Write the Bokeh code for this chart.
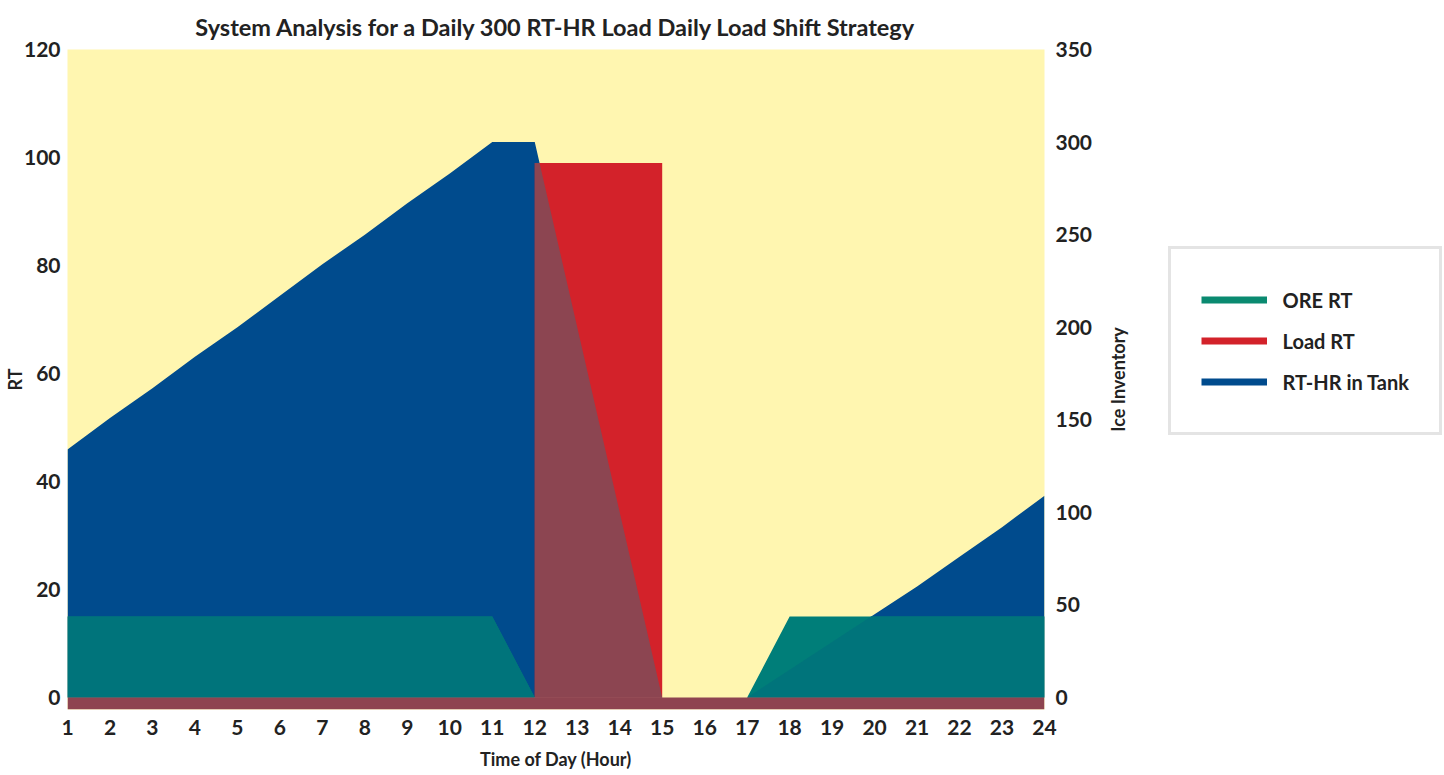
import numpy as np
from bokeh.plotting import figure
from bokeh.models import Range1d, LinearAxis, FixedTicker, Legend, LegendItem, Label
from bokeh.embed import file_html
from bokeh.resources import INLINE

# ---- data ----
hours = [1, 2, 3, 4, 5, 6, 7, 8, 9, 10, 11, 12, 13, 14, 15, 16, 17, 18, 19, 20, 21, 22, 23, 24]
ore_rt = [15, 15, 15, 15, 15, 15, 15, 15, 15, 15, 15, 0, 0, 0, 0, 0, 0, 15, 15, 15, 15, 15, 15, 15]
tank_rthr = [134, 151, 167, 184, 200, 217, 234, 250, 267, 283, 300, 300, 200, 100, 0, 0, 0, 15, 30, 45, 60, 76, 92, 109]
load_x = [12, 15]
load_rt = [99, 99]
rt_ticks = [0, 20, 40, 60, 80, 100, 120]
inv_ticks = [0, 50, 100, 150, 200, 250, 300, 350]

RT_MAX = 120
INV_MAX = 350
FLOOR = -2.22
scale = RT_MAX / INV_MAX

YELLOW = "#FFF6B0"
BLUE = "#004B8D"
RED = "#D3222A"
BROWN = "#8C4551"
TEAL = "#007E79"
TEAL_ON_BLUE = "#00747B"
FONT = "Lato"
TXT = "#222222"

p = figure(frame_width=977, frame_height=660, output_backend="svg", toolbar_location=None,
           x_range=Range1d(1, 24), y_range=Range1d(FLOOR, RT_MAX),
           min_border_left=66, min_border_right=387, min_border_top=49, min_border_bottom=52)
p.extra_y_ranges = {"inv": Range1d(FLOOR / scale, INV_MAX)}

p.background_fill_color = YELLOW
p.border_fill_color = "white"
p.outline_line_color = None
p.grid.visible = False

# tank inventory (right axis)
p.varea(x=hours, y1=0, y2=tank_rthr, y_range_name="inv", fill_color=BLUE)
# load
p.varea(x=load_x, y1=0, y2=load_rt, fill_color=RED)
# overlap of load and tank
xf = np.linspace(load_x[0], load_x[-1], 601)
ov = np.minimum(np.interp(xf, hours, tank_rthr) * scale, np.interp(xf, load_x, load_rt))
p.varea(x=xf, y1=0, y2=ov, fill_color=BROWN)
# ORE
p.varea(x=hours, y1=0, y2=ore_rt, fill_color=TEAL)
xf2 = np.linspace(1, 24, 2301)
ov2 = np.minimum(np.interp(xf2, hours, ore_rt), np.interp(xf2, hours, tank_rthr) * scale)
p.varea(x=xf2, y1=0, y2=ov2, fill_color=TEAL_ON_BLUE)
# floor strip
p.varea(x=[1, 24], y1=[FLOOR, FLOOR], y2=[0, 0], fill_color="#8E4450")

# title
p.title.text = "System Analysis for a Daily 300 RT-HR Load Daily Load Shift Strategy"
p.title.align = "center"
p.title.text_font = FONT
p.title.text_font_size = "23.5px"
p.title.text_font_style = "bold"
p.title.text_color = TXT
p.title.standoff = 17

def style(ax, size="21px"):
    ax.axis_line_color = None
    ax.major_tick_line_color = None
    ax.minor_tick_line_color = None
    ax.major_tick_out = 0
    ax.major_tick_in = 0
    ax.minor_tick_out = 0
    ax.minor_tick_in = 0
    ax.major_label_text_font = FONT
    ax.major_label_text_font_size = size
    ax.major_label_text_font_style = "bold"
    ax.major_label_text_color = TXT
    ax.axis_label_text_font = FONT
    ax.axis_label_text_font_style = "bold"
    ax.axis_label_text_color = TXT

xa = p.xaxis[0]
xa.ticker = FixedTicker(ticks=hours)
xa.axis_label = "Time of Day (Hour)"
style(xa)
xa.axis_label_text_font_size = "18px"
xa.major_label_standoff = 10
xa.axis_label_standoff = 10

ya = p.yaxis[0]
ya.ticker = FixedTicker(ticks=rt_ticks)
ya.axis_label = "RT"
style(ya)
ya.axis_label_text_font_size = "18px"
ya.major_label_standoff = 7
ya.axis_label_standoff = -5

ra = LinearAxis(y_range_name="inv", ticker=FixedTicker(ticks=inv_ticks))
style(ra)
ra.major_label_standoff = 11
p.add_layout(ra, "right")

# legend (proxy line renderers with no visible segment)
nan = [float("nan")]
r1 = p.line(x=nan, y=nan, line_color="#0A8A70", line_width=7)
r2 = p.line(x=nan, y=nan, line_color=RED, line_width=7)
r3 = p.line(x=nan, y=nan, line_color=BLUE, line_width=7)
legend = Legend(items=[LegendItem(label="ORE RT", renderers=[r1]),
                       LegendItem(label="Load RT", renderers=[r2]),
                       LegendItem(label="RT-HR in Tank", renderers=[r3])],
                location=(-72, 274))
legend.margin = 0
legend.border_line_color = "#C9C9C9"
legend.border_line_width = 3
legend.background_fill_color = "white"
legend.padding = 30
legend.spacing = 0
legend.glyph_width = 66
legend.glyph_height = 41
legend.label_height = 41
legend.label_standoff = 16
legend.label_text_font = FONT
legend.label_text_font_size = "20px"
legend.label_text_font_style = "bold"
legend.label_text_color = TXT
p.add_layout(legend, "right")

# right axis title
ice = Label(x=hours[-1], y=(FLOOR + RT_MAX) / 2, x_offset=73, text="Ice Inventory",
            angle=90, angle_units="deg", text_align="center", text_baseline="middle",
            text_font=FONT, text_font_size="18px", text_font_style="bold", text_color=TXT)
p.add_layout(ice, "right")

open("out.html", "w").write(file_html(p, INLINE))
